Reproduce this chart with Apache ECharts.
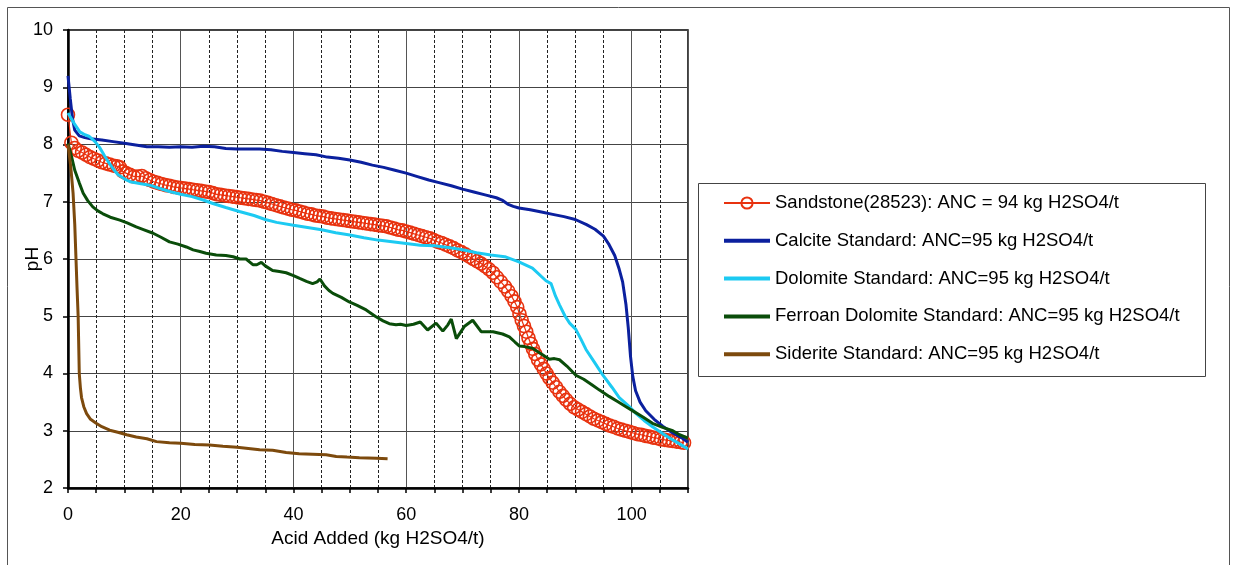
<!DOCTYPE html>
<html>
<head>
<meta charset="utf-8">
<script src="https://cdn.jsdelivr.net/npm/echarts@6/dist/echarts.min.js"></script>
<style>
html,body{margin:0;padding:0;background:#fff;}
#chart{width:1237px;height:565px;}
</style>
</head>
<body>
<div id="chart"></div>
<script>
const seriesNames = [
  'Sandstone(28523): ANC = 94 kg H2SO4/t',
  'Calcite Standard: ANC=95 kg H2SO4/t',
  'Dolomite Standard: ANC=95 kg H2SO4/t',
  'Ferroan Dolomite Standard: ANC=95 kg H2SO4/t',
  'Siderite Standard: ANC=95 kg H2SO4/t'
];
const xTickValues = [0, 20, 40, 60, 80, 100];
const yTickValues = [2, 3, 4, 5, 6, 7, 8, 9, 10];

const sandstone = [
[0,8.52],[0.6,8.03],[1.2,7.94],[1.8,7.89],[2.5,7.86],[3.2,7.82],[3.9,7.78],[4.6,7.75],[5.3,7.72],[6.0,7.69],
[6.7,7.67],[7.4,7.65],[8.1,7.63],[8.7,7.62],[9.2,7.6],[9.7,7.53],[10.3,7.5],[11.0,7.47],[11.7,7.44],[12.4,7.44],
[13.1,7.45],[13.8,7.41],[14.5,7.38],[15.2,7.35],[15.9,7.33],[16.6,7.31],[17.3,7.29],[18.0,7.28],[18.7,7.26],[19.4,7.25],
[20.1,7.24],[20.8,7.23],[21.5,7.22],[22.2,7.21],[22.9,7.2],[23.6,7.19],[24.3,7.18],[25,7.17],[25.7,7.15],[26.4,7.13],
[27.1,7.12],[27.8,7.11],[28.5,7.1],[29.2,7.09],[29.9,7.08],[30.6,7.07],[31.3,7.06],[32,7.05],[32.7,7.04],[33.4,7.03],
[34.1,7.02],[34.8,7.0],[35.5,6.98],[36.2,6.96],[36.9,6.94],[37.6,6.92],[38.3,6.9],[39,6.88],[39.7,6.86],[40.4,6.85],
[41.1,6.83],[41.8,6.81],[42.5,6.79],[43.2,6.78],[43.9,6.76],[44.6,6.75],[45.3,6.74],[46,6.72],[46.7,6.71],[47.4,6.7],
[48.1,6.69],[48.8,6.68],[49.5,6.67],[50.2,6.66],[50.9,6.65],[51.6,6.64],[52.3,6.63],[53,6.62],[53.7,6.61],[54.4,6.6],
[55.1,6.59],[55.8,6.58],[56.5,6.57],[57.2,6.55],[57.9,6.53],[58.6,6.51],[59.3,6.5],[60,6.48],[60.7,6.46],[61.4,6.44],
[62.1,6.42],[62.8,6.4],[63.5,6.38],[64.2,6.36],[64.9,6.33],[65.6,6.3],[66.3,6.28],[67,6.25],[67.7,6.22],[68.4,6.19],
[69.1,6.15],[69.8,6.12],[70.5,6.08],[71.2,6.04],[71.9,6.0],[72.6,5.96],[73.3,5.92],[74,5.87],[74.7,5.82],[75.4,5.76],
[76.1,5.68],[76.8,5.6],[77.5,5.52],[78.1,5.44],[78.7,5.35],[79.2,5.26],[79.7,5.16],[80.1,5.04],[80.5,4.93],[80.9,4.83],
[81.3,4.73],[81.7,4.62],[82.1,4.52],[82.5,4.43],[82.9,4.34],[83.4,4.24],[83.9,4.16],[84.4,4.08],[84.9,4.0],[85.4,3.92],
[86,3.84],[86.6,3.76],[87.2,3.68],[87.8,3.61],[88.4,3.54],[89.1,3.47],[89.8,3.41],[90.5,3.37],[91.2,3.33],[91.9,3.29],
[92.6,3.25],[93.3,3.21],[94,3.18],[94.7,3.15],[95.4,3.12],[96.1,3.09],[96.8,3.07],[97.5,3.04],[98.2,3.02],[98.9,3.0],
[99.6,2.98],[100.3,2.96],[101,2.94],[101.7,2.93],[102.4,2.91],[103.1,2.9],[103.8,2.88],[104.5,2.87],[105.2,2.85],[105.9,2.84],
[106.6,2.83],[107.3,2.82],[108,2.81],[108.7,2.8],[109.3,2.79]
];

const calcite = [
[0,9.2],[0.4,8.8],[0.8,8.45],[1.2,8.25],[2,8.15],[3,8.12],[4,8.1],[6,8.08],[8,8.05],[10,8.02],
[12,7.99],[14,7.96],[16,7.96],[18,7.95],[20,7.96],[22,7.95],[24,7.97],[26,7.96],[28,7.93],[30,7.92],
[32,7.92],[34,7.92],[36,7.91],[38,7.88],[40,7.86],[42,7.84],[44,7.82],[46,7.78],[48,7.76],[50,7.73],
[52,7.69],[54,7.64],[56,7.6],[58,7.55],[60,7.5],[62,7.44],[64,7.38],[66,7.33],[68,7.28],[70,7.22],
[72,7.17],[74,7.12],[76,7.07],[77,7.03],[78,6.96],[79,6.92],[80,6.89],[82,6.86],[84,6.82],[86,6.78],
[88,6.74],[90,6.69],[92,6.6],[93.5,6.52],[95,6.4],[96,6.25],[97,6.06],[97.8,5.82],[98.4,5.6],[99,5.2],
[99.4,4.8],[99.8,4.3],[100.2,3.95],[100.7,3.7],[101.5,3.5],[102.5,3.35],[104,3.2],[105.5,3.08],[107.3,2.96],[109,2.87],
[110,2.8]
];

const dolomite = [
[0,8.55],[0.6,8.45],[1.2,8.35],[2.1,8.22],[3,8.17],[3.8,8.14],[4.8,8.05],[5.6,7.95],[6.5,7.8],[7.4,7.66],
[8.2,7.55],[8.9,7.47],[10,7.4],[11,7.35],[12.7,7.32],[14.5,7.29],[16,7.24],[18,7.18],[20,7.13],[22,7.09],
[24,7.03],[25.7,6.97],[28,6.9],[30.4,6.83],[33,6.76],[35,6.69],[37,6.64],[40,6.59],[42.5,6.55],[45,6.51],
[47.5,6.46],[50,6.42],[52.5,6.37],[55,6.33],[57.5,6.3],[60,6.27],[62.5,6.24],[65,6.23],[67.5,6.2],[70,6.16],
[72.5,6.11],[75,6.07],[77.5,6.04],[80,5.95],[82.4,5.84],[84.8,5.62],[85.7,5.57],[86.5,5.35],[87.2,5.2],[88.2,5.0],
[89,4.88],[90.1,4.77],[91,4.6],[91.9,4.42],[93.5,4.18],[94.9,3.97],[96.5,3.76],[97.8,3.58],[99.5,3.43],[100.8,3.3],
[102.2,3.18],[103.7,3.07],[105.5,2.95],[107.3,2.84],[109,2.74],[110,2.68]
];

const ferroan = [
[0,8.02],[0.6,7.8],[1.2,7.55],[2,7.33],[2.7,7.15],[3.5,7.02],[4.4,6.91],[5.3,6.84],[6.2,6.79],[7.5,6.73],
[9.2,6.68],[10.5,6.63],[12.1,6.56],[13.5,6.51],[15.1,6.45],[16.5,6.38],[18,6.3],[19.5,6.26],[21,6.21],[22.2,6.16],
[23.4,6.13],[24.5,6.1],[26.3,6.07],[28,6.06],[29.3,6.04],[30.5,6.0],[31.6,6.0],[32.2,5.95],[32.8,5.9],[33.5,5.9],
[34.3,5.94],[35,5.88],[36.3,5.8],[37.5,5.78],[38.7,5.76],[40,5.71],[41.1,5.66],[42.3,5.61],[43.4,5.57],[44.2,5.6],
[44.7,5.65],[45.5,5.53],[46.3,5.45],[47,5.4],[48.5,5.33],[49.9,5.25],[51.3,5.19],[52.9,5.11],[54.5,5.0],[55.9,4.92],
[57,4.87],[58.2,4.85],[59,4.86],[60,4.84],[61.3,4.86],[62.5,4.9],[63.8,4.76],[65.3,4.88],[66.5,4.74],[67.4,4.85],
[68,4.95],[68.9,4.61],[70.3,4.82],[71.8,4.93],[73.3,4.73],[75.4,4.73],[77.1,4.69],[78.3,4.64],[79.3,4.55],[80.1,4.48],
[81,4.47],[82.4,4.44],[83.5,4.37],[84.6,4.3],[85.4,4.25],[86.3,4.26],[87.2,4.24],[88.5,4.13],[90.1,3.97],[91.5,3.9],
[93,3.8],[94.3,3.71],[96,3.6],[97.5,3.51],[99,3.42],[100.5,3.33],[102,3.24],[103.7,3.13],[105.5,3.06],[107.3,3.0],
[108.5,2.93],[110,2.87]
];

const siderite = [
[0,8.0],[0.5,7.6],[0.9,7.15],[1.2,6.6],[1.4,6.05],[1.6,5.5],[1.8,5.0],[1.9,4.5],[2.0,4.0],[2.2,3.75],
[2.4,3.58],[2.8,3.42],[3.3,3.3],[4,3.2],[5,3.13],[6,3.07],[7.4,3.01],[9,2.97],[10.4,2.93],[12.1,2.89],
[14,2.86],[15.7,2.81],[18,2.79],[20,2.78],[22.5,2.76],[25.1,2.75],[27.5,2.73],[30,2.71],[32,2.69],[34,2.67],
[36.3,2.66],[38.7,2.62],[41,2.6],[43.4,2.59],[45.8,2.58],[47.6,2.55],[49.5,2.54],[51.7,2.53],[54.7,2.52],[56.7,2.51]
];

const FONT = "'Liberation Sans', Arial, sans-serif";
const colors = ['#e8320f', '#0b209e', '#1ccaf2', '#0a4d0a', '#7d4a0d'];

const chart = echarts.init(document.getElementById('chart'), null, {renderer: 'canvas'});

function lineSeries(name, data, color) {
  return {
    name: name, type: 'line', data: data, showSymbol: false, symbol: 'none',
    lineStyle: {color: color, width: 3}, itemStyle: {color: color},
    smooth: false, animation: false, z: 3
  };
}

const legendData = seriesNames.map(function (n, i) {
  if (i === 0) return {name: n};
  return {name: n, itemStyle: {opacity: 0}, lineStyle: {width: 4}};
});

chart.setOption({
  backgroundColor: '#fff',
  animation: false,
  textStyle: {fontFamily: FONT},
  grid: {left: 68, top: 30, width: 620, height: 458, show: true, borderColor: '#000', borderWidth: 1.5,
         backgroundColor: 'transparent', containLabel: false, outerBoundsMode: 'none'},
  xAxis: {
    type: 'value', min: 0, max: 110, interval: 20,
    name: 'Acid Added (kg H2SO4/t)', nameLocation: 'middle', nameGap: 40,
    nameTextStyle: {fontSize: 19, color: '#000', fontFamily: FONT},
    axisLine: {show: true, onZero: false, lineStyle: {color: '#000', width: 2.5}},
    axisTick: {show: true, length: 5, lineStyle: {color: '#000', width: 1.5}},
    minorTick: {show: true, splitNumber: 4, length: 5, lineStyle: {color: '#000', width: 1.5}},
    splitLine: {show: true, lineStyle: {color: '#555', width: 1}},
    minorSplitLine: {show: true, lineStyle: {color: '#222', width: 1, type: [3, 2]}},
    axisLabel: {
      fontSize: 18, color: '#000', margin: 18, fontFamily: FONT,
      formatter: function (v) { return xTickValues.indexOf(v) >= 0 ? String(v) : ''; }
    }
  },
  yAxis: {
    type: 'value', min: 2, max: 10, interval: 1,
    name: 'pH', nameLocation: 'middle', nameGap: 26, nameMoveOverlap: false,
    nameTextStyle: {fontSize: 19, color: '#000', fontFamily: FONT},
    axisLine: {show: true, onZero: false, lineStyle: {color: '#000', width: 2.5}},
    axisTick: {show: true, length: 5, lineStyle: {color: '#000', width: 1.5}},
    splitLine: {show: true, lineStyle: {color: '#444', width: 1}},
    axisLabel: {
      fontSize: 18, color: '#000', margin: 15, fontFamily: FONT,
      formatter: function (v) { return yTickValues.indexOf(v) >= 0 ? String(v) : ''; }
    }
  },
  legend: {
    orient: 'vertical', left: 722, top: 193.5, padding: 0,
    itemWidth: 46, itemHeight: 14, itemGap: 18.8,
    textStyle: {fontSize: 18.5, color: '#000', fontFamily: FONT},
    data: legendData
  },
  graphic: [
    {type: 'rect', silent: true, shape: {x: 7.5, y: 7.5, width: 1222, height: 600},
     style: {fill: 'none', stroke: '#555', lineWidth: 1}, z: -10},
    {type: 'rect', silent: true, shape: {x: 698.5, y: 183.5, width: 507, height: 193},
     style: {fill: 'none', stroke: '#444', lineWidth: 1}, z: -10}
  ],
  series: [
    {
      name: seriesNames[0], type: 'line', data: sandstone, animation: false,
      symbol: 'circle', symbolSize: 13, showSymbol: true,
      lineStyle: {color: colors[0], width: 1.2},
      itemStyle: {color: 'rgba(255,255,255,0)', borderColor: colors[0], borderWidth: 1.6},
      z: 2
    },
    lineSeries(seriesNames[1], calcite, colors[1]),
    lineSeries(seriesNames[2], dolomite, colors[2]),
    lineSeries(seriesNames[3], ferroan, colors[3]),
    lineSeries(seriesNames[4], siderite, colors[4])
  ]
});
</script>
</body>
</html>
